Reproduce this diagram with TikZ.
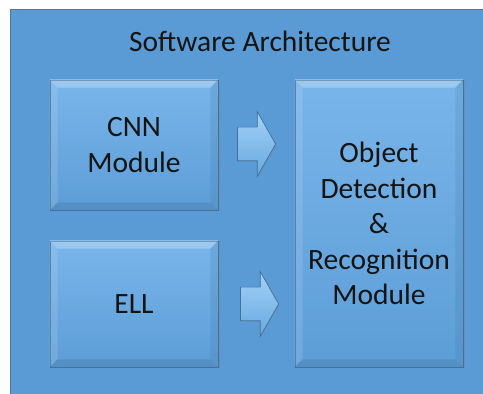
\documentclass[tikz,border=0pt]{standalone}
\usepackage{fontspec}
\setmainfont{Carlito}
\usetikzlibrary{calc,shapes.arrows,shadows}

\definecolor{slideblue}{HTML}{5B9BD5}
\definecolor{edgeblue}{HTML}{41719C}
\definecolor{boxtop}{HTML}{78B5EA}
\definecolor{boxbottom}{HTML}{5D9DD6}
\definecolor{arrowlight}{HTML}{A3D2F5}
\definecolor{arrowdark}{HTML}{66A8E0}
\definecolor{textblack}{HTML}{141414}

\tikzset{
  module/.style={draw=edgeblue, line width=0.8pt, top color=boxtop, bottom color=boxbottom,
    minimum width=168pt, inner sep=0pt, align=center, text=textblack,
    font=\fontsize{29.5}{35.5}\selectfont,
    drop shadow={shadow xshift=1.5pt, shadow yshift=-1.5pt, opacity=0.35}},
  flowarrow/.style={single arrow, draw=edgeblue, line width=0.7pt,
    top color=arrowlight, bottom color=arrowdark, inner xsep=0pt, inner ysep=16.5pt,
    minimum height=38pt, single arrow head extend=15.5pt, single arrow tip angle=121,
    drop shadow={shadow xshift=1pt, shadow yshift=-1pt, opacity=0.3}}
}

% bevelled edges of a module box
\newcommand{\bevel}[1]{
  \fill[white, opacity=0.28] (#1.north west) -- (#1.north east)
    -- ($(#1.north east)+(-8pt,-8pt)$) -- ($(#1.north west)+(8pt,-8pt)$) -- cycle;
  \fill[white, opacity=0.12] (#1.north west) -- ($(#1.north west)+(8pt,-8pt)$)
    -- ($(#1.south west)+(8pt,8pt)$) -- (#1.south west) -- cycle;
  \fill[edgeblue, opacity=0.30] (#1.south west) -- ($(#1.south west)+(8pt,8pt)$)
    -- ($(#1.south east)+(-8pt,8pt)$) -- (#1.south east) -- cycle;
  \fill[edgeblue, opacity=0.18] (#1.north east) -- (#1.south east)
    -- ($(#1.south east)+(-8pt,8pt)$) -- ($(#1.north east)+(-8pt,-8pt)$) -- cycle;
}

\begin{document}
\begin{tikzpicture}[x=1pt, y=1pt]

\useasboundingbox (0,0) rectangle (483,394);

% slide background
    \fill[white] (0,0) rectangle (483,394);
    \draw[fill=slideblue, draw=edgeblue!70!gray, line width=0.6pt] (10,-10) rectangle (500,385);

% title
    \node[text=textblack, font=\fontsize{29.5}{35.5}\selectfont] (title) at (260,353) {Software Architecture};

% modules
    \node[module, minimum height=130pt] (cnn) at (134,249) {CNN\\Module};
    \node[module, minimum height=126pt] (ell) at (134,90) {ELL};
    \node[module, minimum height=287pt] (odr) at (379,170.5)
        {Object\\Detection\\\&\\Recognition\\Module};
    \bevel{cnn}
    \bevel{ell}
    \bevel{odr}

% arrows
    \node[flowarrow, anchor=tip] (cnnarrow) at (276,250) {};
    \node[flowarrow, anchor=tip] (ellarrow) at (279,90) {};

\end{tikzpicture}
\end{document}
